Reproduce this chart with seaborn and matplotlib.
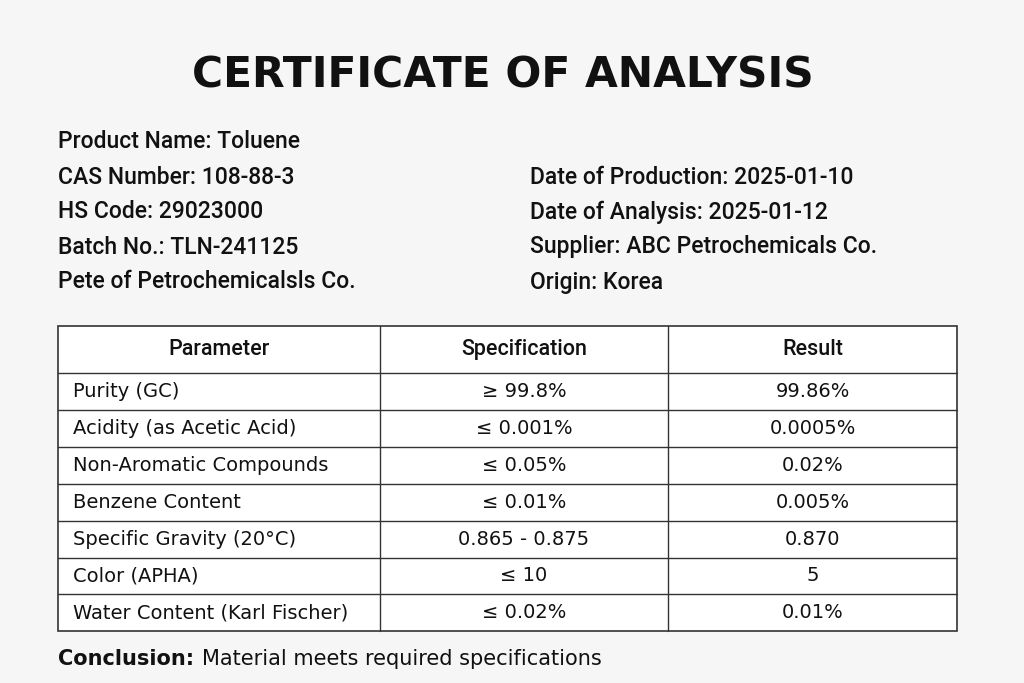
import matplotlib
matplotlib.use("Agg")
import matplotlib.pyplot as plt
import seaborn as sns

sns.set_theme(style="white")
plt.rcParams['font.family'] = ['DejaVu Sans']

title = "CERTIFICATE OF ANALYSIS"
left_info = ["Product Name: Toluene", "CAS Number: 108-88-3", "HS Code: 29023000",
             "Batch No.: TLN-241125", "Pete of Petrochemicalsls Co."]
right_info = ["", "Date of Production: 2025-01-10", "Date of Analysis: 2025-01-12",
              "Supplier: ABC Petrochemicals Co.", "Origin: Korea"]
headers = ["Parameter", "Specification", "Result"]
parameters = ["Purity (GC)", "Acidity (as Acetic Acid)", "Non-Aromatic Compounds",
              "Benzene Content", "Specific Gravity (20°C)", "Color (APHA)",
              "Water Content (Karl Fischer)"]
specifications = ["≥ 99.8%", "≤ 0.001%", "≤ 0.05%", "≤ 0.01%", "0.865 - 0.875", "≤ 10", "≤ 0.02%"]
results = ["99.86%", "0.0005%", "0.02%", "0.005%", "0.870", "5", "0.01%"]

fig = plt.figure(figsize=(10.24, 6.83), dpi=100)
fig.patch.set_facecolor("#f6f6f6")
ax = fig.add_axes([0, 0, 1, 1])
ax.set_xlim(0, 1024); ax.set_ylim(683, 0); ax.axis("off")

ax.text(503, 76, title, ha="center", va="center", fontsize=30.5, fontweight="bold", color="#111")
y0, dy = 142, 35
info_font = dict(family=["Roboto", "DejaVu Sans"], fontweight="medium", fontsize=16.5, color="#111")
for i, t in enumerate(left_info):
    ax.text(58, y0 + i*dy, t, ha="left", va="center", **info_font)
for i, t in enumerate(right_info):
    if t:
        ax.text(530, y0 + i*dy, t, ha="left", va="center", **info_font)

# table
x0, x1, c1, c2 = 58, 957, 380, 668
top, hh, rh = 326, 47, 36.9
n = len(parameters)
bottom = top + hh + n*rh
ax.add_patch(plt.Rectangle((x0, top), x1-x0, bottom-top, fill=True, facecolor="white", edgecolor="#333", lw=1.2))
for x in (c1, c2):
    ax.plot([x, x], [top, bottom], color="#333", lw=1)
for i in range(n):
    y = top + hh + i*rh
    ax.plot([x0, x1], [y, y], color="#333", lw=1)
centers = [(x0+c1)/2, (c1+c2)/2, (c2+x1)/2]
for cx, h in zip(centers, headers):
    ax.text(cx, top + hh/2, h, ha="center", va="center", fontsize=15.5,
            family=["Roboto", "DejaVu Sans"], fontweight="medium", color="#111")
for i in range(n):
    yc = top + hh + (i+0.5)*rh
    ax.text(73, yc, parameters[i], ha="left", va="center", fontsize=14, color="#111")
    ax.text(centers[1], yc, specifications[i], ha="center", va="center", fontsize=14, color="#111")
    ax.text(centers[2], yc, results[i], ha="center", va="center", fontsize=14, color="#111")

ax.text(58, 659, "Conclusion:", ha="left", va="center", fontsize=15, fontweight="bold", color="#111")
ax.text(202, 659, "Material meets required specifications", ha="left", va="center", fontsize=15, color="#111")

fig.savefig("out.png", dpi=100, facecolor=fig.get_facecolor())
